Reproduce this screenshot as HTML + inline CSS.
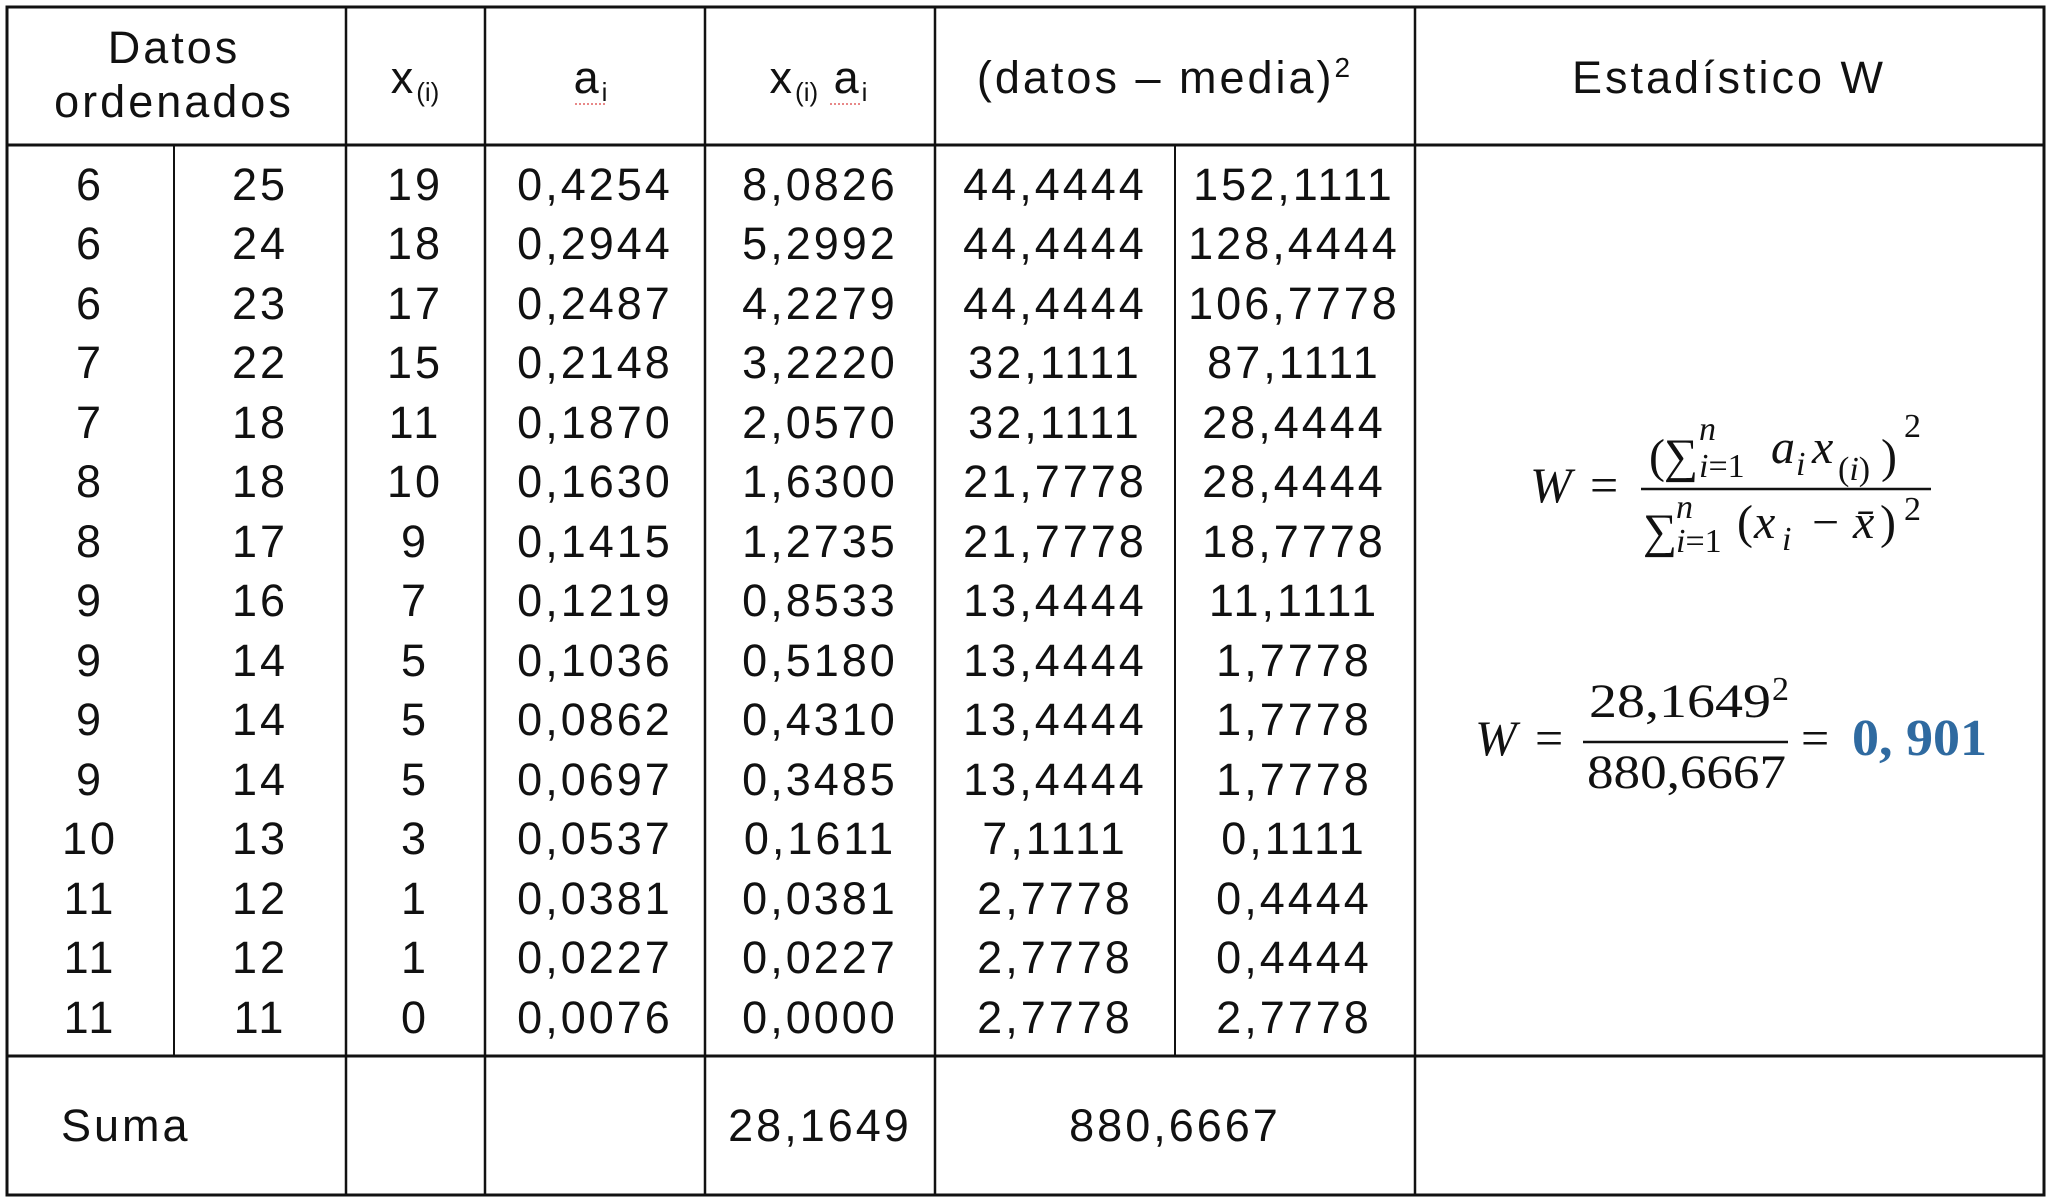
<!DOCTYPE html>
<html><head><meta charset="utf-8"><style>
html,body{margin:0;padding:0;background:#fff;}
svg{display:block;}
.t{font-family:"Liberation Sans",sans-serif;font-size:45px;letter-spacing:3px;fill:#111;}
.m{font-family:"Liberation Serif",serif;font-size:48px;fill:#111;}
.i{font-style:italic;}
.s{font-size:34px;}
</style></head><body>
<svg width="2048" height="1203" viewBox="0 0 2048 1203" xmlns="http://www.w3.org/2000/svg">
<rect width="2048" height="1203" fill="#fff"/>
<g stroke="#111" fill="none">
<rect x="7" y="7" width="2037" height="1188" stroke-width="3"/>
<line x1="7" y1="145" x2="2044" y2="145" stroke-width="3"/>
<line x1="7" y1="1056" x2="2044" y2="1056" stroke-width="3"/>
<line x1="346" y1="7" x2="346" y2="1195" stroke-width="2.5"/>
<line x1="485" y1="7" x2="485" y2="1195" stroke-width="2.5"/>
<line x1="705" y1="7" x2="705" y2="1195" stroke-width="2.5"/>
<line x1="935" y1="7" x2="935" y2="1195" stroke-width="2.5"/>
<line x1="1415" y1="7" x2="1415" y2="1195" stroke-width="2.5"/>
<line x1="174" y1="145" x2="174" y2="1056" stroke-width="2"/>
<line x1="1175" y1="145" x2="1175" y2="1056" stroke-width="2"/>
</g>
<g class="t" text-anchor="middle">
<text x="174" y="63">Datos</text>
<text x="174" y="117">ordenados</text>
<text x="415" y="93">x<tspan font-size="26" letter-spacing="0" dy="8">(i)</tspan></text>
<text x="592" y="93">a<tspan font-size="26" dy="8">i</tspan></text>
<text x="820" y="93">x<tspan font-size="26" letter-spacing="0" dy="8">(i)</tspan><tspan dy="-8"> a</tspan><tspan font-size="26" dy="8">i</tspan></text>
<text x="1165" y="93">(datos – media)<tspan font-size="28" dy="-16">2</tspan></text>
<text x="1729" y="93">Estadístico W</text>
</g>
<g stroke="#e06060" stroke-width="1.5" stroke-dasharray="2,2">
<line x1="575" y1="104" x2="605" y2="104"/>
<line x1="830" y1="104" x2="860" y2="104"/>
</g>
<g class="t" text-anchor="middle">
<text x="90" y="200">6</text><text x="260" y="200">25</text><text x="415" y="200">19</text><text x="595" y="200">0,4254</text><text x="820" y="200">8,0826</text><text x="1055" y="200">44,4444</text><text x="1294" y="200">152,1111</text>
<text x="90" y="259">6</text><text x="260" y="259">24</text><text x="415" y="259">18</text><text x="595" y="259">0,2944</text><text x="820" y="259">5,2992</text><text x="1055" y="259">44,4444</text><text x="1294" y="259">128,4444</text>
<text x="90" y="319">6</text><text x="260" y="319">23</text><text x="415" y="319">17</text><text x="595" y="319">0,2487</text><text x="820" y="319">4,2279</text><text x="1055" y="319">44,4444</text><text x="1294" y="319">106,7778</text>
<text x="90" y="378">7</text><text x="260" y="378">22</text><text x="415" y="378">15</text><text x="595" y="378">0,2148</text><text x="820" y="378">3,2220</text><text x="1055" y="378">32,1111</text><text x="1294" y="378">87,1111</text>
<text x="90" y="438">7</text><text x="260" y="438">18</text><text x="415" y="438">11</text><text x="595" y="438">0,1870</text><text x="820" y="438">2,0570</text><text x="1055" y="438">32,1111</text><text x="1294" y="438">28,4444</text>
<text x="90" y="497">8</text><text x="260" y="497">18</text><text x="415" y="497">10</text><text x="595" y="497">0,1630</text><text x="820" y="497">1,6300</text><text x="1055" y="497">21,7778</text><text x="1294" y="497">28,4444</text>
<text x="90" y="557">8</text><text x="260" y="557">17</text><text x="415" y="557">9</text><text x="595" y="557">0,1415</text><text x="820" y="557">1,2735</text><text x="1055" y="557">21,7778</text><text x="1294" y="557">18,7778</text>
<text x="90" y="616">9</text><text x="260" y="616">16</text><text x="415" y="616">7</text><text x="595" y="616">0,1219</text><text x="820" y="616">0,8533</text><text x="1055" y="616">13,4444</text><text x="1294" y="616">11,1111</text>
<text x="90" y="676">9</text><text x="260" y="676">14</text><text x="415" y="676">5</text><text x="595" y="676">0,1036</text><text x="820" y="676">0,5180</text><text x="1055" y="676">13,4444</text><text x="1294" y="676">1,7778</text>
<text x="90" y="735">9</text><text x="260" y="735">14</text><text x="415" y="735">5</text><text x="595" y="735">0,0862</text><text x="820" y="735">0,4310</text><text x="1055" y="735">13,4444</text><text x="1294" y="735">1,7778</text>
<text x="90" y="795">9</text><text x="260" y="795">14</text><text x="415" y="795">5</text><text x="595" y="795">0,0697</text><text x="820" y="795">0,3485</text><text x="1055" y="795">13,4444</text><text x="1294" y="795">1,7778</text>
<text x="90" y="854">10</text><text x="260" y="854">13</text><text x="415" y="854">3</text><text x="595" y="854">0,0537</text><text x="820" y="854">0,1611</text><text x="1055" y="854">7,1111</text><text x="1294" y="854">0,1111</text>
<text x="90" y="914">11</text><text x="260" y="914">12</text><text x="415" y="914">1</text><text x="595" y="914">0,0381</text><text x="820" y="914">0,0381</text><text x="1055" y="914">2,7778</text><text x="1294" y="914">0,4444</text>
<text x="90" y="973">11</text><text x="260" y="973">12</text><text x="415" y="973">1</text><text x="595" y="973">0,0227</text><text x="820" y="973">0,0227</text><text x="1055" y="973">2,7778</text><text x="1294" y="973">0,4444</text>
<text x="90" y="1033">11</text><text x="260" y="1033">11</text><text x="415" y="1033">0</text><text x="595" y="1033">0,0076</text><text x="820" y="1033">0,0000</text><text x="1055" y="1033">2,7778</text><text x="1294" y="1033">2,7778</text>
</g>
<g class="t">
<text x="61" y="1141">Suma</text>
<text x="820" y="1141" text-anchor="middle">28,1649</text>
<text x="1175" y="1141" text-anchor="middle">880,6667</text>
</g>
<!-- formula 1 -->
<g class="m">
<text x="1530" y="502" class="i" font-size="50">W</text>
<text x="1590" y="502" font-size="50">=</text>
<line x1="1641" y1="489" x2="1931" y2="489" stroke="#111" stroke-width="2.5"/>
<text x="1649" y="472">(</text>
<text x="1664" y="472">∑</text>
<text x="1699" y="440" class="i s">n</text>
<text x="1699" y="477" class="s"><tspan class="i">i</tspan>=1</text>
<text x="1771" y="463" class="i">a</text>
<text x="1796" y="475" class="i s">i</text>
<text x="1812" y="463" class="i">x</text>
<text x="1838" y="480" class="s">(<tspan class="i">i</tspan>)</text>
<text x="1881" y="472">)</text>
<text x="1904" y="437" class="s">2</text>
<text x="1643" y="547">∑</text>
<text x="1676" y="518" class="i s">n</text>
<text x="1676" y="552" class="s"><tspan class="i">i</tspan>=1</text>
<text x="1737" y="538">(</text>
<text x="1754" y="538" class="i">x</text>
<text x="1782" y="550" class="i s">i</text>
<text x="1812" y="538">−</text>
<text x="1853" y="538" class="i">x̄</text>
<text x="1880" y="538">)</text>
<text x="1904" y="520" class="s">2</text>
</g>
<!-- formula 2 -->
<g class="m">
<text x="1475" y="755" class="i" font-size="50">W</text>
<text x="1535" y="755" font-size="50">=</text>
<line x1="1583" y1="742" x2="1788" y2="742" stroke="#111" stroke-width="2.5"/>
<text x="1589" y="717" textLength="182" lengthAdjust="spacingAndGlyphs">28,1649</text>
<text x="1772" y="700" class="s">2</text>
<text x="1587" y="788" textLength="199" lengthAdjust="spacingAndGlyphs">880,6667</text>
<text x="1801" y="755" font-size="50">=</text>
<text x="1852" y="755" font-size="52" font-weight="bold" fill="#2f6aa0" textLength="135" lengthAdjust="spacingAndGlyphs">0, 901</text>
</g>
</svg>
</body></html>
